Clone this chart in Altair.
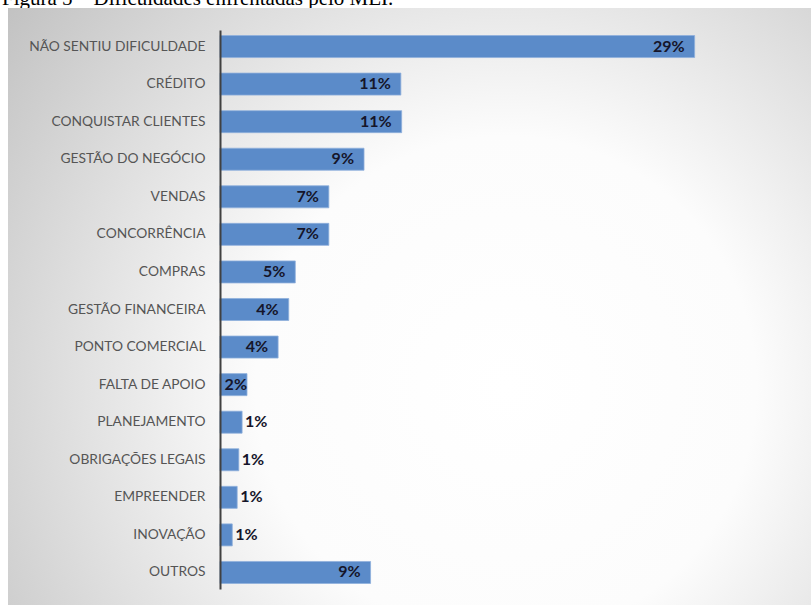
import altair as alt
import pandas as pd

categories = ["NÃO SENTIU DIFICULDADE", "CRÉDITO", "CONQUISTAR CLIENTES", "GESTÃO DO NEGÓCIO",
              "VENDAS", "CONCORRÊNCIA", "COMPRAS", "GESTÃO FINANCEIRA", "PONTO COMERCIAL",
              "FALTA DE APOIO", "PLANEJAMENTO", "OBRIGAÇÕES LEGAIS", "EMPREENDER", "INOVAÇÃO", "OUTROS"]
values = [29.0, 11.05, 11.1, 8.8, 6.65, 6.65, 4.6, 4.2, 3.55, 1.65, 1.35, 1.15, 1.05, 0.75, 9.2]
labels = ["29%", "11%", "11%", "9%", "7%", "7%", "5%", "4%", "4%", "2%", "1%", "1%", "1%", "1%", "9%"]
caption = "Figura 5 – Dificuldades enfrentadas pelo MEI."

df = pd.DataFrame({"cat": categories, "v": values, "lab": labels})

W, H = 491, 559
PL, PT = 220, 30

yenc = alt.Y("cat:N", sort=categories, title=None,
             scale=alt.Scale(paddingInner=0.414, paddingOuter=0.147),
             axis=alt.Axis(domainColor="#404040", domainWidth=2, ticks=False,
                           labelColor="#555555", labelFont="Lato", labelFontSize=13.8,
                           labelPadding=15, zindex=1))
xenc = alt.X("v:Q", scale=alt.Scale(domain=[0, 30]), axis=None)

one = pd.DataFrame({"a": [0]})

bg = alt.Chart(one).mark_rect(
    color=alt.Gradient(gradient="radial",
                       stops=[alt.GradientStop(offset=0, color="#ffffff"),
                              alt.GradientStop(offset=0.4, color="#fcfcfc"),
                              alt.GradientStop(offset=1, color="#c2c2c2")],
                       x1=0.62, y1=0.6, r1=0, x2=0.62, y2=0.6, r2=0.78)
).encode(x=alt.value(8 - PL), x2=alt.value(811 - PL), y=alt.value(8 - PT), y2=alt.value(605 - PT))

cap = alt.Chart(one).mark_text(align="left", baseline="alphabetic", font="Liberation Serif",
                               fontSize=21, color="#000000").encode(
    x=alt.value(2 - PL), y=alt.value(5 - PT), text=alt.value(caption))

bars = alt.Chart(df).mark_bar(color="#5b8bc9", stroke="#8fb0dc", strokeWidth=0.8).encode(
    x=xenc, y=yenc)

tstyle = dict(font="Lato", fontSize=16, fontWeight="bold", color="#15152a", baseline="middle")
t_in = alt.Chart(df).transform_filter("datum.v >= 3").mark_text(align="right", dx=-10, **tstyle).encode(
    x=xenc, y=yenc, text="lab:N")
t_edge = alt.Chart(df).transform_filter("datum.v >= 1.5 && datum.v < 3").mark_text(align="right", dx=0, **tstyle).encode(
    x=xenc, y=yenc, text="lab:N")
t_out = alt.Chart(df).transform_filter("datum.v < 1.5").mark_text(align="left", dx=3, **tstyle).encode(
    x=xenc, y=yenc, text="lab:N")

chart = alt.layer(cap, bg, bars, t_in, t_edge, t_out).properties(
    width=W, height=H,
    autosize=alt.AutoSizeParams(type="none"),
    padding={"left": PL, "top": PT, "right": 811 - PL - W, "bottom": 605 - PT - H},
    background="#ffffff"
).configure_view(stroke=None, fill=None)

chart.save("out.html", embed_options={"renderer": "svg", "actions": False})
